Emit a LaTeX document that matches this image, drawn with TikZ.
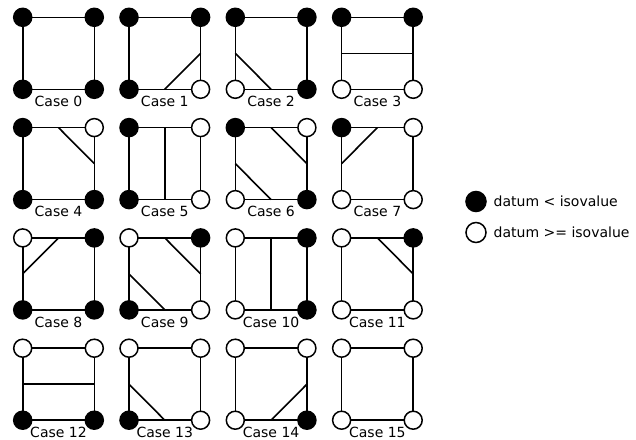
\documentclass[tikz,border=0pt]{standalone}
\usepackage{fontspec}
\setmainfont{DejaVu Sans}
\begin{document}
\begin{tikzpicture}[x=1pt,y=-1pt,
  sq/.style={line width=1.6pt, line join=round},
  vtx/.style={circle, draw=black, minimum size=18pt, inner sep=0pt, line width=1.5pt},
  blk/.style={vtx, fill=black},
  wht/.style={vtx, fill=white},
  lbl/.style={font=\fontsize{14}{16}\selectfont, anchor=base, inner sep=0pt},
  legtxt/.style={font=\fontsize{14}{16}\selectfont, anchor=west, inner sep=0pt}]
\useasboundingbox (0,0) rectangle (636,439);
% cases: number / column / row / TL / TR / BL / BR
\foreach \n/\cx/\ry in {
  0/0/0, 1/1/0, 2/2/0, 3/3/0,
  4/0/1, 5/1/1, 6/2/1, 7/3/1,
  8/0/2, 9/1/2, 10/2/2, 11/3/2,
  12/0/3, 13/1/3, 14/2/3, 15/3/3} {
  \pgfmathsetmacro\xl{22.7+106.3*\cx}
  \pgfmathsetmacro\xr{\xl+71.6}
  \pgfmathsetmacro\xm{\xl+35.8}
  \pgfmathsetmacro\yt{17.3+110.3*\ry}
  \pgfmathsetmacro\yb{\yt+72}
  \pgfmathsetmacro\ym{\yt+36}
  \pgfmathsetmacro\yl{\yb+17.2}
  \coordinate (tl\n) at (\xl,\yt);
  \coordinate (tr\n) at (\xr,\yt);
  \coordinate (bl\n) at (\xl,\yb);
  \coordinate (br\n) at (\xr,\yb);
  \coordinate (T\n) at (\xm,\yt);
  \coordinate (B\n) at (\xm,\yb);
  \coordinate (L\n) at (\xl,\ym);
  \coordinate (R\n) at (\xr,\ym);
  \coordinate (lp\n) at (\xm,\yl);
  \draw[sq] (tl\n) -- (tr\n) -- (br\n) -- (bl\n) -- cycle;
}
% isolines
\foreach \n/\p/\q in {1/B/R, 2/L/B, 3/L/R, 4/T/R, 5/T/B, 6/T/R, 6/L/B, 7/T/L,
  8/T/L, 9/T/R, 9/L/B, 10/T/B, 11/T/R, 12/L/R, 13/L/B, 14/B/R} {
  \draw[sq] (\p\n) -- (\q\n);
}
% vertices and labels
\foreach \n/\stl/\str/\sbl/\sbr in {
  0/blk/blk/blk/blk, 1/blk/blk/blk/wht, 2/blk/blk/wht/blk, 3/blk/blk/wht/wht,
  4/blk/wht/blk/blk, 5/blk/wht/blk/wht, 6/blk/wht/wht/blk, 7/blk/wht/wht/wht,
  8/wht/blk/blk/blk, 9/wht/blk/blk/wht, 10/wht/blk/wht/blk, 11/wht/blk/wht/wht,
  12/wht/wht/blk/blk, 13/wht/wht/blk/wht, 14/wht/wht/wht/blk, 15/wht/wht/wht/wht} {
  \node[\stl] (vtl\n) at (tl\n) {};
  \node[\str] (vtr\n) at (tr\n) {};
  \node[\sbl] (vbl\n) at (bl\n) {};
  \node[\sbr] (vbr\n) at (br\n) {};
  \node[lbl] (lab\n) at (lp\n) {Case \n};
}
% legend
\node[blk, minimum size=20pt] (leg1) at (476,201.5) {};
\node[wht, minimum size=20pt] (leg2) at (476,232.5) {};
\node[legtxt] (legt1) at (493.5,201.5) {datum < isovalue};
\node[legtxt] (legt2) at (493.5,232.5) {datum >= isovalue};
\end{tikzpicture}
\end{document}
